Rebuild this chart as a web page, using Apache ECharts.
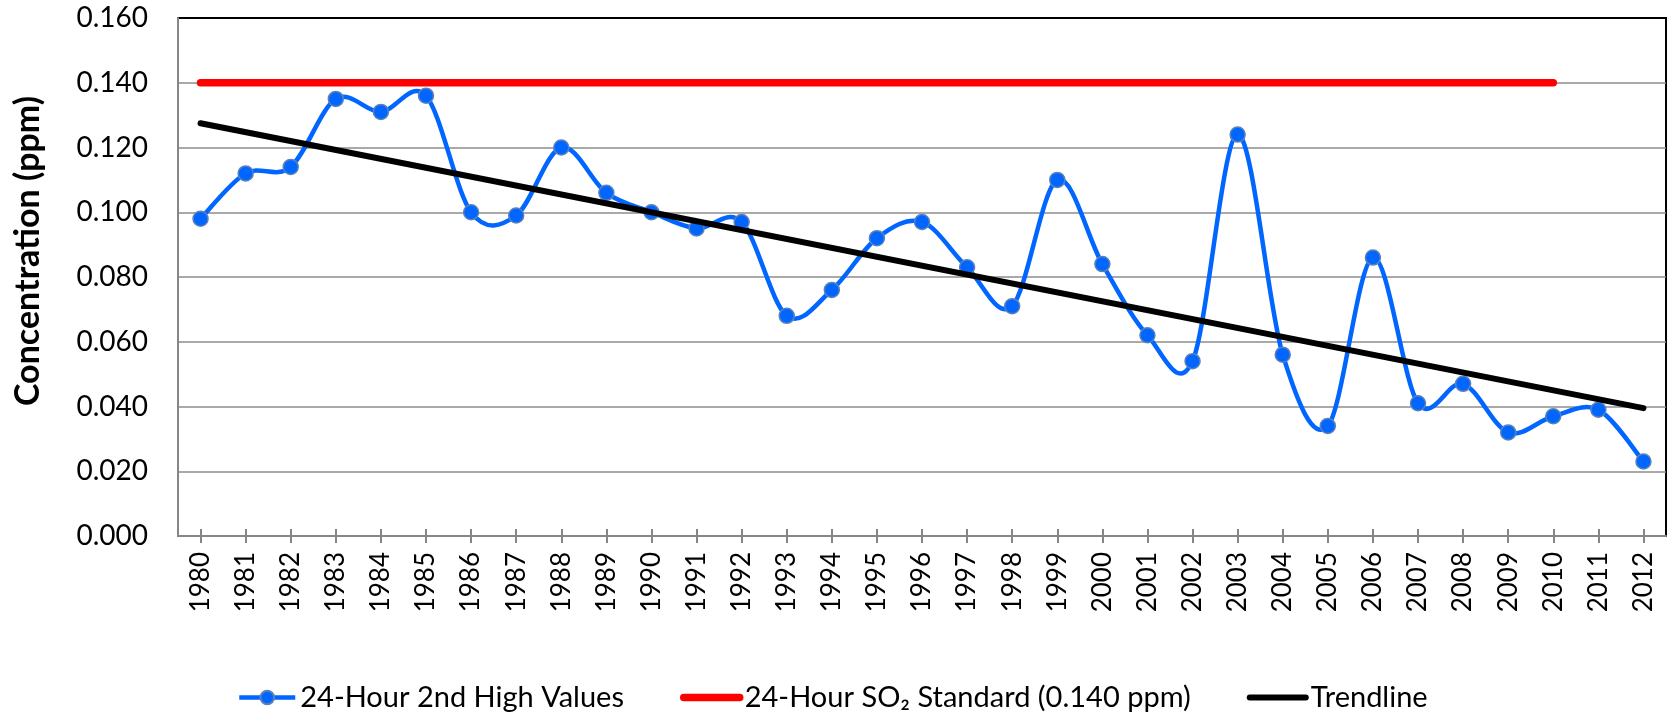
<!DOCTYPE html>
<html>
<head>
<meta charset="utf-8">
<script src="https://cdn.jsdelivr.net/npm/echarts@6/dist/echarts.min.js"></script>
<style>
html,body{margin:0;padding:0;background:#fff;}
#chart{width:1671px;height:714px;}
</style>
</head>
<body>
<div id="chart"></div>
<script>
const years = ['1980','1981','1982','1983','1984','1985','1986','1987','1988','1989',
  '1990','1991','1992','1993','1994','1995','1996','1997','1998','1999',
  '2000','2001','2002','2003','2004','2005','2006','2007','2008','2009',
  '2010','2011','2012'];
const secondHighValues = [0.098, 0.112, 0.114, 0.135, 0.131, 0.136, 0.100, 0.099, 0.120, 0.106,
  0.100, 0.095, 0.097, 0.068, 0.076, 0.092, 0.097, 0.083, 0.071, 0.110,
  0.084, 0.062, 0.054, 0.124, 0.056, 0.034, 0.086, 0.041, 0.047, 0.032,
  0.037, 0.039, 0.023];
const standardValue = 0.140;
const standardYears = ['1980', '2010'];
const trendYears = ['1980', '2012'];
const trendValues = [0.1275, 0.0395];
const yTicks = { min: 0, max: 0.16, interval: 0.02 };
const seriesNames = ['24-Hour 2nd High Values', '24-Hour SO\u2082 Standard (0.140 ppm)', 'Trendline'];
const yAxisTitle = 'Concentration (ppm)';

const FONT = 'Lato, "Noto Sans", sans-serif';
const BLUE = '#0066FF';
const chart = echarts.init(document.getElementById('chart'), null, { renderer: 'canvas' });

// Excel-like smoothed curve: one cubic Bezier per segment, positioned via the axes (api.coord)
function renderSmoothSegment(params, api) {
  const n = secondHighValues.length;
  const i = params.dataIndex;
  if (i >= n - 1) return null;
  const pt = k => {
    const kk = Math.max(0, Math.min(n - 1, k));
    return api.coord([kk, secondHighValues[kk]]);
  };
  const p0 = pt(i - 1), p1 = pt(i), p2 = pt(i + 1), p3 = pt(i + 2);
  return {
    type: 'bezierCurve',
    shape: {
      x1: p1[0], y1: p1[1],
      x2: p2[0], y2: p2[1],
      cpx1: p1[0] + (p2[0] - p0[0]) / 6, cpy1: p1[1] + (p2[1] - p0[1]) / 6,
      cpx2: p2[0] - (p3[0] - p1[0]) / 6, cpy2: p2[1] - (p3[1] - p1[1]) / 6
    },
    style: { stroke: BLUE, lineWidth: 4.5, fill: null, lineCap: 'round' },
    silent: true
  };
}

chart.setOption({
  animation: false,
  backgroundColor: '#ffffff',
  grid: {
    left: 178, right: 5, top: 18, bottom: 178,
    show: true, borderColor: '#000', borderWidth: 2, backgroundColor: 'transparent'
  },
  graphic: [{
    type: 'text',
    x: 28, y: 251,
    rotation: Math.PI / 2,
    style: {
      text: yAxisTitle,
      font: 'bold 34px ' + FONT,
      fill: '#000',
      align: 'center',
      verticalAlign: 'middle'
    }
  }],
  legend: {
    left: 237, top: 683,
    padding: 0,
    itemGap: 56,
    itemWidth: 56,
    itemHeight: 17,
    textStyle: { fontFamily: FONT, fontSize: 29, color: '#000' },
    data: [
      { name: seriesNames[0], lineStyle: { color: BLUE, width: 4.5, opacity: 1 } },
      { name: seriesNames[1], itemStyle: { opacity: 0 }, lineStyle: { color: '#FF0000', width: 7.5, cap: 'round', opacity: 1 } },
      { name: seriesNames[2], itemStyle: { opacity: 0 }, lineStyle: { color: '#000000', width: 6, cap: 'round', opacity: 1 } }
    ]
  },
  xAxis: [{
    type: 'category',
    data: years,
    boundaryGap: true,
    position: 'bottom',
    axisLine: { show: true, lineStyle: { color: '#868686', width: 2 } },
    axisTick: { show: true, alignWithLabel: true, length: 7, lineStyle: { color: '#868686', width: 2 } },
    axisLabel: { rotate: 90, margin: 16, fontFamily: FONT, fontSize: 26, color: '#000', interval: 0 },
    splitLine: { show: false }
  }, {
    type: 'category',
    data: years,
    boundaryGap: true,
    position: 'bottom',
    axisLine: { show: false },
    axisTick: { show: true, inside: true, alignWithLabel: true, length: 7, lineStyle: { color: '#868686', width: 2 } },
    axisLabel: { show: false },
    splitLine: { show: false }
  }],
  yAxis: {
    type: 'value',
    min: yTicks.min, max: yTicks.max, interval: yTicks.interval,
    axisLine: { show: true, lineStyle: { color: '#868686', width: 2 } },
    axisTick: { show: false },
    axisLabel: { margin: 30, fontFamily: FONT, fontSize: 28, color: '#000',
      formatter: v => v.toFixed(3) },
    splitLine: { show: true, showMaxLine: false, lineStyle: { color: '#8c8c8c', width: 1.5 } }
  },
  series: [{
    name: 'smoothCurve',
    type: 'custom',
    coordinateSystem: 'cartesian2d',
    xAxisIndex: 0,
    data: secondHighValues.map((v, i) => [i, v]),
    encode: { x: 0, y: 1 },
    renderItem: renderSmoothSegment,
    clip: false,
    silent: true,
    z: 2
  }, {
    name: seriesNames[0],
    type: 'line',
    data: secondHighValues,
    symbol: 'circle',
    symbolSize: 15,
    lineStyle: { color: BLUE, width: 4.5, opacity: 0 },
    itemStyle: { color: BLUE, borderColor: '#5A82B8', borderWidth: 1.5 },
    z: 3
  }, {
    name: seriesNames[1],
    type: 'line',
    data: standardYears.map(y => [y, standardValue]),
    symbol: 'none',
    lineStyle: { color: '#FF0000', width: 7.5, cap: 'round' },
    itemStyle: { color: '#FF0000', opacity: 0 },
    z: 4
  }, {
    name: seriesNames[2],
    type: 'line',
    data: trendYears.map((y, i) => [y, trendValues[i]]),
    symbol: 'none',
    lineStyle: { color: '#000000', width: 6, cap: 'round' },
    itemStyle: { color: '#000000', opacity: 0 },
    z: 5
  }]
});
</script>
</body>
</html>
